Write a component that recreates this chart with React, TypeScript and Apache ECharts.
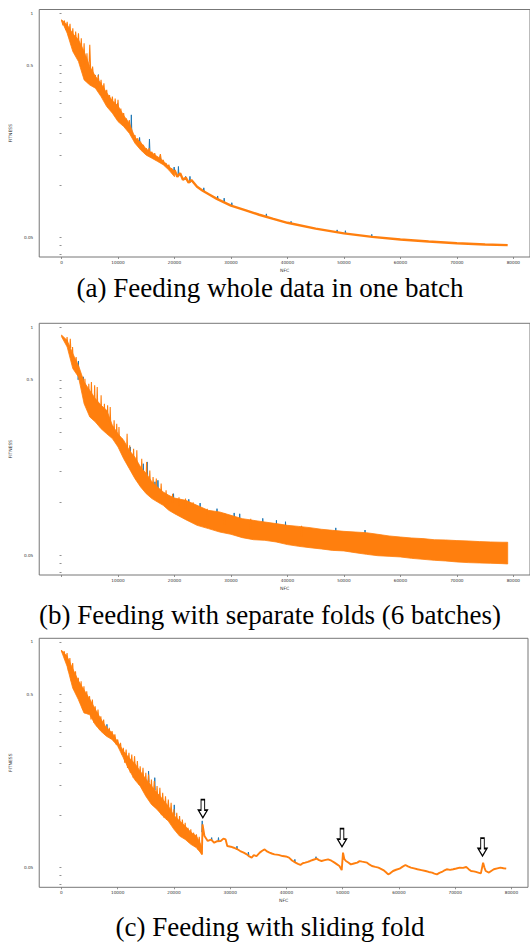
import React, { useEffect, useRef } from "react";
import * as echarts from "echarts";

const ORANGE = "#ff7f0e";
const BLUE = "#1f77b4";

// ---- axis ticks ----
const xTicks = [0, 10000, 20000, 30000, 40000, 50000, 60000, 70000, 80000];
const xTicksNoZero = [10000, 20000, 30000, 40000, 50000, 60000, 70000, 80000];
const yLabelValues = [0.05, 0.5, 1];
const yTickValues = [0.04, 0.045, 0.05, 0.1, 0.15, 0.2, 0.25, 0.3, 0.35, 0.4, 0.45, 0.5, 1];

const captions = [
  "(a) Feeding whole data in one batch",
  "(b) Feeding with separate folds (6 batches)",
  "(c) Feeding with sliding fold",
];

// ---- panel (a): whole data in one batch ----
const bandNfcA = [0, 1000, 2000, 3000, 4000, 5000, 6000, 7000, 8000, 9000, 10000, 11000, 12000, 13000, 14000, 15000, 16000, 17000, 18000, 19000, 20000];
const bandLowA = [0.907, 0.765, 0.599, 0.524, 0.41, 0.383, 0.367, 0.328, 0.287, 0.263, 0.235, 0.22, 0.201, 0.176, 0.161, 0.15, 0.144, 0.138, 0.132, 0.123, 0.1125];
const bandHighA = [0.915, 0.855, 0.76, 0.7, 0.6, 0.49, 0.43, 0.39, 0.345, 0.31, 0.29, 0.255, 0.23, 0.19, 0.178, 0.163, 0.155, 0.147, 0.139, 0.129, 0.121];
const orangeEarlyA = [
  [0, 0.915], [250, 0.85], [500, 0.907], [750, 0.8], [1000, 0.89], [1250, 0.73], [1500, 0.867], [1750, 0.655],
  [2000, 0.818], [2250, 0.6], [2500, 0.782], [2750, 0.612], [3000, 0.765], [3250, 0.512], [3500, 0.716], [3750, 0.459],
  [4000, 0.669], [4250, 0.41], [4500, 0.586], [4750, 0.392], [5000, 0.655], [5250, 0.383], [5500, 0.49], [5750, 0.392],
  [6000, 0.438], [6250, 0.367], [6500, 0.438], [6750, 0.351], [7000, 0.41], [7250, 0.328], [7500, 0.392], [7750, 0.314],
  [8000, 0.359], [8250, 0.293], [8500, 0.335], [8750, 0.274], [9000, 0.328], [9250, 0.263], [9500, 0.32], [9750, 0.245],
  [10000, 0.314], [10250, 0.235], [10500, 0.28], [10750, 0.228], [11000, 0.263], [11250, 0.22], [11500, 0.245], [11750, 0.208],
  [12000, 0.24], [12250, 0.201], [12500, 0.205], [12750, 0.19], [13000, 0.196], [13250, 0.178], [13500, 0.188], [13750, 0.168],
  [14000, 0.18], [14250, 0.161], [14500, 0.172], [14750, 0.154], [15000, 0.165], [15250, 0.15], [15500, 0.165], [15750, 0.147],
  [16000, 0.157], [16250, 0.144], [16500, 0.154], [16750, 0.141], [17000, 0.147], [17250, 0.139], [17500, 0.152], [17750, 0.135],
  [18000, 0.141], [18250, 0.131], [18500, 0.135], [18750, 0.128], [19000, 0.132], [19250, 0.123], [19500, 0.126], [19750, 0.119],
  [20000, 0.123],
];
const orangeTailA = [
  [20000, 0.123], [20500, 0.1125], [21000, 0.118], [21500, 0.108], [22000, 0.111], [22500, 0.104], [23000, 0.1076],
  [24000, 0.0984], [25000, 0.0933], [26000, 0.0893], [27500, 0.0837], [30000, 0.0764], [32500, 0.0721], [35000, 0.0677],
  [37500, 0.064], [40000, 0.0608], [45000, 0.0562], [50000, 0.0528], [55000, 0.0504], [60000, 0.0486], [65000, 0.0474],
  [70000, 0.0463], [75000, 0.0455], [79000, 0.0451],
];
// [nfc, base, spike tip]
const blueSpikesA = [
  [5540, 0.41, 0.45], [6530, 0.37, 0.44], [9910, 0.27, 0.3], [12360, 0.205, 0.257], [13820, 0.175, 0.19],
  [15570, 0.158, 0.186], [17490, 0.14, 0.149], [19940, 0.122, 0.128], [20700, 0.115, 0.129], [21980, 0.108, 0.113],
  [22740, 0.104, 0.113], [25190, 0.093, 0.097], [27640, 0.0837, 0.087], [28800, 0.08, 0.0845], [30150, 0.0764, 0.0795],
  [36270, 0.066, 0.0685], [40640, 0.0602, 0.062], [48800, 0.0535, 0.0553], [50260, 0.0528, 0.0547], [54930, 0.0504, 0.0521],
];

// ---- panel (b): separate folds ----
const bandNfcB = [
  0, 1000, 2000, 3000, 4000, 5000, 6000, 7000, 8000, 9000, 10000, 11000, 12000, 13000, 14000, 15000, 16000, 17000, 18000,
  19000, 20000, 22000, 24000, 26000, 28000, 30000, 32000, 34000, 36000, 38000, 40000, 42000, 44000, 46000, 48000, 50000,
  52000, 54000, 56000, 58000, 60000, 62000, 64000, 66000, 68000, 70000, 72000, 74000, 76000, 78000, 79000,
];
const bandLowB = [
  0.88, 0.769, 0.579, 0.519, 0.365, 0.307, 0.287, 0.263, 0.246, 0.231, 0.207, 0.1774, 0.1556, 0.1365, 0.1223, 0.112, 0.105,
  0.1004, 0.0961, 0.09, 0.0862, 0.0796, 0.0739, 0.0708, 0.0677, 0.0657, 0.0629, 0.0612, 0.0607, 0.0594, 0.0574, 0.0561,
  0.0551, 0.0542, 0.0532, 0.0528, 0.0516, 0.0505, 0.0496, 0.0492, 0.0488, 0.0479, 0.0473, 0.0467, 0.0463, 0.0457, 0.0453,
  0.0451, 0.0449, 0.0447, 0.0445,
];
const bandHighB = [
  0.9, 0.839, 0.705, 0.604, 0.486, 0.435, 0.39, 0.358, 0.335, 0.275, 0.246, 0.226, 0.198, 0.181, 0.159, 0.146, 0.131,
  0.1223, 0.1146, 0.1096, 0.1058, 0.1026, 0.0961, 0.09, 0.0881, 0.0843, 0.0807, 0.0789, 0.0772, 0.0756, 0.0739, 0.0729,
  0.0717, 0.0702, 0.0692, 0.0683, 0.0677, 0.0671, 0.0657, 0.0643, 0.0634, 0.0626, 0.0621, 0.0612, 0.061, 0.0605, 0.0602,
  0.0597, 0.0594, 0.0592, 0.0592,
];
const orangeSpikesB = [
  [980, 0.82, 0.877], [1550, 0.76, 0.858], [1950, 0.68, 0.769], [2590, 0.6, 0.674], [3740, 0.47, 0.519], [4140, 0.44, 0.507],
  [4830, 0.4, 0.475], [5290, 0.4, 0.486], [5860, 0.37, 0.465], [6320, 0.36, 0.455], [7010, 0.33, 0.408], [7590, 0.31, 0.365],
  [8160, 0.29, 0.358], [8620, 0.28, 0.35], [9310, 0.25, 0.294], [9770, 0.24, 0.281], [10170, 0.23, 0.269], [10750, 0.21, 0.231],
  [11610, 0.2, 0.246], [12070, 0.18, 0.2115], [12760, 0.17, 0.2023], [13330, 0.16, 0.198], [14200, 0.15, 0.1774],
  [15060, 0.14, 0.17], [15630, 0.13, 0.152], [16210, 0.125, 0.1395], [16780, 0.12, 0.1365], [17640, 0.113, 0.128],
  [18510, 0.106, 0.117], [19660, 0.1, 0.112], [20800, 0.095, 0.107], [21950, 0.092, 0.105], [23300, 0.088, 0.1],
  [25800, 0.08, 0.092], [28900, 0.075, 0.0865], [33500, 0.07, 0.0805], [42500, 0.064, 0.0735],
];
const blueSpikesB = [
  [2990, 0.5, 0.64], [3850, 0.42, 0.52], [12180, 0.17, 0.207], [14480, 0.14, 0.166], [15170, 0.14, 0.17],
  [16550, 0.115, 0.131], [17070, 0.115, 0.1335], [19830, 0.098, 0.112], [22530, 0.088, 0.104], [24540, 0.082, 0.099],
  [27530, 0.078, 0.092], [30570, 0.074, 0.087], [31550, 0.073, 0.086], [35630, 0.069, 0.081], [38050, 0.067, 0.079],
  [39660, 0.066, 0.0775], [48560, 0.061, 0.0715], [53740, 0.058, 0.0695],
];

// ---- panel (c): sliding fold ----
const bandNfcC = [0, 1000, 2000, 3000, 4000, 5000, 6000, 7000, 8000, 9000, 10000, 11000, 12000, 13000, 14000, 15000, 16000, 17000, 18000, 19000, 20000, 21000, 22000, 23000, 24000, 24970];
const bandLowC = [0.884, 0.724, 0.543, 0.466, 0.39, 0.382, 0.334, 0.306, 0.286, 0.274, 0.251, 0.215, 0.184, 0.161, 0.1475, 0.129, 0.1157, 0.1083, 0.0991, 0.0927, 0.0831, 0.076, 0.0727, 0.0681, 0.0651, 0.0596];
const bandHighC = [0.895, 0.827, 0.702, 0.599, 0.531, 0.47, 0.411, 0.36, 0.32, 0.3, 0.265, 0.235, 0.215, 0.2, 0.18, 0.162, 0.148, 0.135, 0.124, 0.113, 0.1, 0.093, 0.087, 0.08, 0.076, 0.066];
const orangeEarlyC = [
  [0, 0.895], [250, 0.864], [500, 0.884], [750, 0.774], [1000, 0.864], [1250, 0.678], [1500, 0.809], [1750, 0.594],
  [2000, 0.757], [2250, 0.531], [2500, 0.678], [2750, 0.497], [3000, 0.621], [3250, 0.455], [3500, 0.594], [3750, 0.408],
  [4000, 0.556], [4250, 0.39], [4500, 0.52], [4750, 0.382], [5000, 0.487], [5250, 0.357], [5500, 0.466], [5750, 0.342],
  [6000, 0.426], [6250, 0.327], [6500, 0.408], [6750, 0.313], [7000, 0.373], [7250, 0.306], [7500, 0.357], [7750, 0.293],
  [8000, 0.327], [8250, 0.286], [8500, 0.32], [8750, 0.276], [9000, 0.306], [9250, 0.268], [9500, 0.293], [9750, 0.256],
  [10000, 0.274], [10250, 0.245], [10500, 0.262], [10750, 0.2245], [11000, 0.245], [11250, 0.201], [11500, 0.24], [11750, 0.188],
  [12000, 0.2295], [12250, 0.176], [12500, 0.2245], [12750, 0.165], [13000, 0.2196], [13250, 0.158], [13500, 0.2055], [13750, 0.151],
  [14000, 0.192], [14250, 0.1443], [14500, 0.188], [14750, 0.1363], [15000, 0.176], [15250, 0.129], [15500, 0.172], [15750, 0.121],
  [16000, 0.161], [16250, 0.1157], [16500, 0.158], [16750, 0.1107], [17000, 0.1475], [17250, 0.1059], [17500, 0.1445], [17750, 0.1013],
  [18000, 0.135], [18250, 0.097], [18500, 0.129], [18750, 0.094], [19000, 0.1236], [19250, 0.0915], [19500, 0.1183], [19750, 0.0868],
  [20000, 0.1083], [20250, 0.0831], [20500, 0.1036], [20750, 0.0795], [21000, 0.0991], [21250, 0.0767], [21500, 0.0948], [21750, 0.0744],
  [22000, 0.0907], [22250, 0.0721], [22500, 0.0849], [22750, 0.0696], [23000, 0.0831], [23250, 0.0681], [23500, 0.0795], [23750, 0.066],
  [24000, 0.0777], [24250, 0.0637], [24500, 0.0753], [24750, 0.0615], [24970, 0.0596],
];
const orangeTailC = [
  [24970, 0.0596], [25090, 0.0888], [25430, 0.076], [26010, 0.0712], [26600, 0.0725], [27170, 0.0696], [27700, 0.071],
  [28320, 0.0712], [28800, 0.0735], [29190, 0.0727], [29480, 0.0666], [30100, 0.066], [30640, 0.0651], [31200, 0.064],
  [31790, 0.0623], [32400, 0.061], [32950, 0.0596], [33400, 0.058], [33820, 0.0571], [34200, 0.059], [34680, 0.0583],
  [35260, 0.061], [35700, 0.0625], [36130, 0.0637], [36550, 0.062], [36990, 0.061], [37400, 0.0603], [37860, 0.0596],
  [38600, 0.0592], [39310, 0.0583], [39900, 0.058], [40460, 0.0571], [41000, 0.055], [41620, 0.0534], [42050, 0.0525],
  [42490, 0.0518], [42900, 0.053], [43350, 0.0534], [43800, 0.054], [44220, 0.0546], [44800, 0.0555], [45380, 0.0563],
  [45800, 0.0552], [46240, 0.0546], [46800, 0.0552], [47400, 0.0558], [48000, 0.0548], [48550, 0.0534], [49000, 0.0522],
  [49420, 0.0511], [49830, 0.0484], [50060, 0.061], [50300, 0.056], [50580, 0.0546], [51000, 0.0535], [51450, 0.0522],
  [52000, 0.0528], [52600, 0.0534], [53000, 0.0545], [53470, 0.0541], [53900, 0.0538], [54340, 0.0534], [54800, 0.052],
  [55200, 0.0511], [55800, 0.0505], [56360, 0.05], [56800, 0.0492], [57230, 0.0484], [57700, 0.047], [58090, 0.0457],
  [58500, 0.0465], [58960, 0.0478], [59500, 0.0486], [60120, 0.0493], [60600, 0.0505], [61160, 0.0518], [61600, 0.0508],
  [62140, 0.05], [62700, 0.0495], [63290, 0.0489], [64000, 0.0484], [64740, 0.0478], [65300, 0.0472], [65900, 0.0468],
  [66300, 0.0462], [66760, 0.0457], [67200, 0.0466], [67630, 0.0472], [68000, 0.048], [68500, 0.0489], [69100, 0.0485],
  [69650, 0.0489], [70200, 0.0494], [70810, 0.05], [71400, 0.0498], [71970, 0.0504], [72400, 0.049], [72830, 0.0478],
  [73300, 0.0476], [73700, 0.0472], [74100, 0.0468], [74570, 0.0463], [74970, 0.0534], [75200, 0.05], [75430, 0.0478],
  [76010, 0.0468], [76400, 0.0478], [76880, 0.0489], [77500, 0.0495], [78030, 0.05], [78600, 0.0496], [79080, 0.0493],
];
const blueSpikesC = [
  [8090, 0.3, 0.335], [15490, 0.155, 0.18], [16590, 0.14, 0.165], [20060, 0.1, 0.115], [25030, 0.08, 0.093],
  [26710, 0.0715, 0.0745], [27920, 0.0712, 0.0745], [31210, 0.0635, 0.0665], [33240, 0.059, 0.0615], [41500, 0.0536, 0.0558],
  [45260, 0.056, 0.0578],
];
// arrow annotations (tip position)
const arrowNfc = [25140, 49880, 74860];
const arrowTip = [0.097, 0.066, 0.0583];

function expandSpikes(list: number[][], half: number) {
  const out: any[] = [];
  list.forEach(([x, base, tip]) => {
    out.push([x - half, base], [x, tip], [x + half, base], [x + half + 1, "-"]);
  });
  return out;
}

const TICK_FONT = "DejaVu Sans";
const AX = "#777";

function makeX(gridIndex: number, labelValues: number[]) {
  return {
    type: "value",
    gridIndex,
    min: -3950,
    max: 82950,
    axisLine: { show: false },
    axisTick: { show: true, length: 2, customValues: xTicks, lineStyle: { color: AX, width: 0.8 } },
    axisLabel: {
      customValues: labelValues,
      fontSize: 4.2,
      margin: 3,
      color: "#333",
      fontFamily: TICK_FONT,
      formatter: (v: number) => String(Math.round(v)),
    },
    splitLine: { show: false },
    name: "NFC",
    nameLocation: "middle",
    nameGap: 11,
    nameTextStyle: { fontSize: 4.5, color: "#333", fontFamily: TICK_FONT },
  };
}

function makeY(gridIndex: number, nameGap: number) {
  return {
    type: "log",
    logBase: 10,
    gridIndex,
    min: 0.0385,
    max: 1.05,
    axisLine: { show: false },
    axisTick: { show: true, length: 2, customValues: yTickValues, lineStyle: { color: AX, width: 0.8 } },
    axisLabel: {
      customValues: yLabelValues,
      fontSize: 4.2,
      margin: 6,
      color: "#333",
      fontFamily: TICK_FONT,
      formatter: (v: number) => String(Number(Number(v).toPrecision(2))),
    },
    splitLine: { show: false },
    minorTick: { show: false },
    name: "FITNESS",
    nameLocation: "middle",
    nameGap,
    nameRotate: 90,
    nameTextStyle: { fontSize: 4.5, color: "#333", fontFamily: TICK_FONT },
  };
}

function line(idx: number, data: any[], color: string, width: number, z: number, extra: any = {}) {
  return {
    type: "line",
    xAxisIndex: idx,
    yAxisIndex: idx,
    data,
    z,
    symbol: "none",
    showSymbol: false,
    silent: true,
    connectNulls: false,
    lineStyle: { color, width },
    ...extra,
  };
}

function band(idx: number, nfc: number[], low: number[], high: number[]) {
  const data = nfc.map((x, i) => [x, low[i], high[i]]);
  return {
    type: "custom",
    xAxisIndex: idx,
    yAxisIndex: idx,
    z: 3,
    silent: true,
    data,
    encode: { x: 0, y: [1, 2] },
    renderItem: (params: any, api: any) => {
      if (params.dataIndex !== 0) return null;
      const upper = data.map((d) => api.coord([d[0], d[2]]));
      const lower = data.map((d) => api.coord([d[0], d[1]])).reverse();
      return {
        type: "polygon",
        shape: { points: upper.concat(lower) },
        style: { fill: ORANGE, stroke: ORANGE, lineWidth: 0.8 },
      };
    },
  };
}

export default function App() {
  const ref = useRef<HTMLDivElement>(null);
  useEffect(() => {
    if (!ref.current) return;
    const chart = echarts.init(ref.current, undefined, { renderer: "svg" });

    const option: any = {
      animation: false,
      backgroundColor: "#fff",
      grid: [
        { left: 31, top: 9.5, width: 500, height: 247.5, show: true, borderColor: AX, borderWidth: 1 },
        { left: 26, top: 323.3, width: 504, height: 251.7, show: true, borderColor: AX, borderWidth: 1 },
        { left: 29, top: 638.3, width: 499, height: 249, show: true, borderColor: AX, borderWidth: 1 },
      ],
      xAxis: [makeX(0, xTicks), makeX(1, xTicksNoZero), makeX(2, xTicks)],
      yAxis: [makeY(0, 17), makeY(1, 16), makeY(2, 16)],
      series: [
        // (a)
        line(0, expandSpikes(blueSpikesA, 80), BLUE, 1, 2),
        band(0, bandNfcA, bandLowA, bandHighA),
        line(0, orangeEarlyA, ORANGE, 1.1, 4),
        line(0, orangeTailA, ORANGE, 2.4, 4),
        // (b)
        line(1, expandSpikes(blueSpikesB, 80), BLUE, 1, 2),
        band(1, bandNfcB, bandLowB, bandHighB),
        line(1, expandSpikes(orangeSpikesB, 80), ORANGE, 1.1, 4),
        // (c)
        line(2, expandSpikes(blueSpikesC, 80), BLUE, 1, 2),
        band(2, bandNfcC, bandLowC, bandHighC),
        line(2, orangeEarlyC, ORANGE, 1.1, 4),
        line(2, orangeTailC, ORANGE, 1.9, 4, {
          markPoint: {
            silent: true,
            symbol: "path://M3,0L7,0L7,11L10,11L5,19L0,11L3,11Z",
            symbolSize: [9, 18],
            symbolKeepAspect: false,
            symbolOffset: [0, "-50%"],
            itemStyle: { color: "#fff", borderColor: "#000", borderWidth: 1.3 },
            label: { show: false },
            data: arrowNfc.map((x, i) => ({ coord: [x, arrowTip[i]] })),
          },
        }),
      ],
      graphic: captions.map((t, i) => ({
        type: "text",
        x: 270,
        y: [288, 615, 927][i],
        silent: true,
        style: {
          text: t,
          fontFamily: "Liberation Serif",
          fontSize: 27,
          fill: "#000",
          align: "center",
          verticalAlign: "middle",
        },
      })),
    };
    chart.setOption(option);
    return () => chart.dispose();
  }, []);
  return (
    <div
      ref={ref}
      style={{ position: "absolute", left: 0, top: 0, width: 530, height: 943, overflow: "hidden", background: "#fff" }}
    />
  );
}
